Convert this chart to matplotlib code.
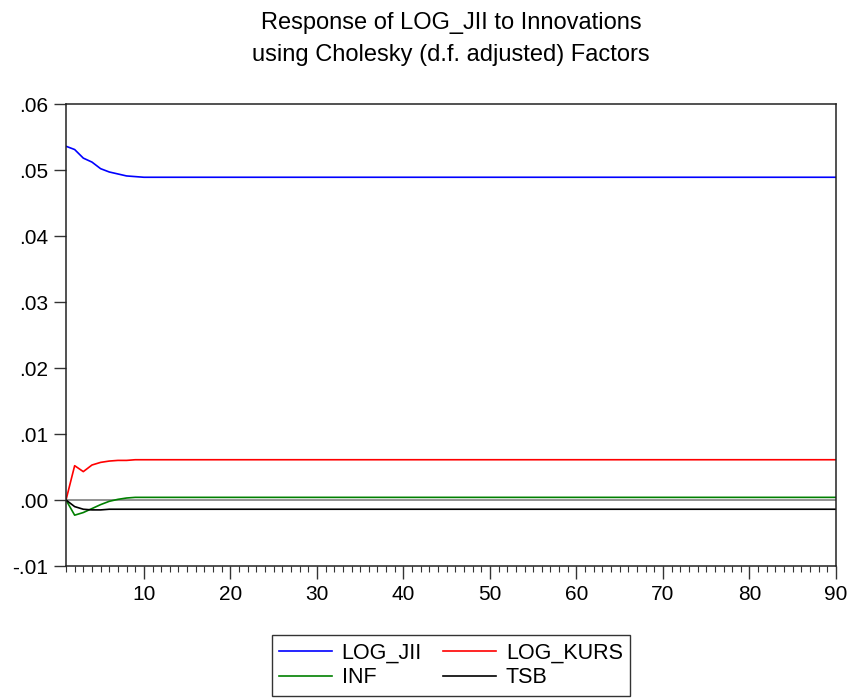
import matplotlib
matplotlib.use("Agg")
import matplotlib.pyplot as plt
from matplotlib.ticker import MultipleLocator, FixedLocator, FuncFormatter

plt.rcParams['font.family'] = ['Liberation Sans', 'DejaVu Sans']

periods = list(range(1, 91))
log_jii = [0.0536, 0.0531, 0.0518, 0.0512, 0.0502, 0.0497, 0.0494, 0.0491, 0.0490, 0.0489] + [0.0489] * 80
log_kurs = [0.0, 0.0052, 0.0043, 0.0053, 0.0057, 0.0059, 0.0060, 0.0060, 0.0061, 0.0061] + [0.0061] * 80
inf = [0.0, -0.0023, -0.0019, -0.0013, -0.0007, -0.0002, 0.0001, 0.0003, 0.0004, 0.0004] + [0.0004] * 80
tsb = [0.0, -0.0010, -0.0014, -0.0015, -0.0015, -0.0014, -0.0014, -0.0014, -0.0014, -0.0014] + [-0.0014] * 80

fig = plt.figure(figsize=(8.48, 6.98), dpi=100)
ax = fig.add_axes([66/848, 1 - 566/698, 770/848, 462/698])

ax.axhline(0, color='#808080', lw=1.2, zorder=1)
l1, = ax.plot(periods, log_jii, color='#0000ff', lw=1.2, label='LOG_JII')
l2, = ax.plot(periods, log_kurs, color='#ff0000', lw=1.2, label='LOG_KURS')
l3, = ax.plot(periods, inf, color='#008000', lw=1.2, label='INF')
l4, = ax.plot(periods, tsb, color='#000000', lw=1.2, label='TSB')

ax.set_xlim(1, 90)
ax.set_ylim(-0.01, 0.06)
ax.yaxis.set_major_locator(FixedLocator([-0.01, 0.0, 0.01, 0.02, 0.03, 0.04, 0.05, 0.06]))
def yfmt(v, pos):
    s = f"{v:.2f}"
    return s.replace("0.", ".")
ax.yaxis.set_major_formatter(FuncFormatter(yfmt))
ax.xaxis.set_major_locator(FixedLocator(list(range(10, 91, 10))))
ax.xaxis.set_minor_locator(MultipleLocator(1))

ax.tick_params(axis='y', direction='out', length=9, width=1, labelsize=15, pad=4, colors='#333333', labelcolor='black')
ax.tick_params(axis='x', which='major', direction='out', length=9, width=1, labelsize=15, pad=5, colors='#333333', labelcolor='black')
ax.tick_params(axis='x', which='minor', direction='out', length=4, width=0.8, colors='#333333')
for s in ax.spines.values():
    s.set_color('#222222')
    s.set_linewidth(1.1)

fig.text(451/848, 1 - 23/698, 'Response of LOG_JII to Innovations', ha='center', va='center', fontsize=17)
fig.text(451/848, 1 - 55/698, 'using Cholesky (d.f. adjusted) Factors', ha='center', va='center', fontsize=17)

leg = fig.legend(handles=[l1, l3, l2, l4], ncol=2, loc='upper center', bbox_to_anchor=(451/848, 1 - 635/698),
                 frameon=True, fancybox=False, edgecolor='black', fontsize=15.5,
                 handlelength=2.45, handletextpad=0.45, columnspacing=1.0,
                 borderpad=0.35, borderaxespad=0, labelspacing=0.18)
leg.get_frame().set_linewidth(1.0)

fig.savefig('out.png', dpi=100)
